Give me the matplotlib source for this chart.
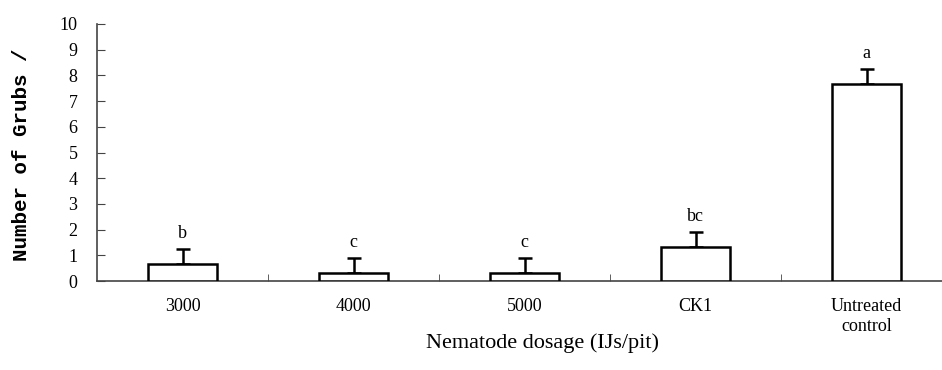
import matplotlib
matplotlib.use("Agg")
import matplotlib.pyplot as plt
import numpy as np

# data
categories = ["3000", "4000", "5000", "CK1", "Untreated\ncontrol"]
means = [0.67, 0.33, 0.33, 1.33, 7.67]
errors = [0.58, 0.58, 0.58, 0.58, 0.58]
letters = ["b", "c", "c", "bc", "a"]
yticks = list(range(0, 11))

serif = "Liberation Serif"

fig = plt.figure(figsize=(9.42, 3.70), dpi=100)
ax = fig.add_axes([97 / 942, 1 - 281 / 370, 855 / 942, 257 / 370])

x = np.arange(len(categories))
ax.bar(x, means, width=0.4, color="white", edgecolor="black", linewidth=1.8, zorder=3)
ax.errorbar(x, means, yerr=[np.zeros(len(errors)), errors], fmt="none",
            ecolor="black", elinewidth=1.8, capsize=5, capthick=1.8, zorder=2)

for xi, m, e, lab in zip(x, means, errors, letters):
    ax.annotate(lab, (xi, m + e), xytext=(0, 5), textcoords="offset points",
                ha="center", va="bottom", fontsize=13, family=serif)

ax.set_xlim(-0.5, len(categories) - 0.5)
ax.set_ylim(0, 10)
ax.set_yticks(yticks)
ax.set_yticklabels([str(t) for t in yticks], family=serif, fontsize=13)

# category labels under bars, tick marks between categories
ax.set_xticks(x)
ax.set_xticklabels(categories, family=serif, fontsize=13, linespacing=1.25)
ax.tick_params(axis="x", length=0, pad=12)
ax.set_xticks(np.arange(0.5, len(categories) - 0.5), minor=True)
ax.tick_params(axis="x", which="minor", direction="in", length=5, color="#444444")
ax.tick_params(axis="y", direction="in", length=6, color="#444444", pad=14)

for side in ["top", "right"]:
    ax.spines[side].set_visible(False)
for side in ["left", "bottom"]:
    ax.spines[side].set_color("#444444")
    ax.spines[side].set_linewidth(1.2)

fig.text(22 / 942, 1 - 155 / 370, "Number of Grubs /", rotation=90, ha="center", va="center",
         family="Liberation Mono", fontweight="bold", fontsize=15)
fig.text(543 / 942, 1 - 343 / 370, "Nematode dosage (IJs/pit)", ha="center", va="center",
         family=serif, fontsize=16)

fig.savefig("out.png", dpi=100)
